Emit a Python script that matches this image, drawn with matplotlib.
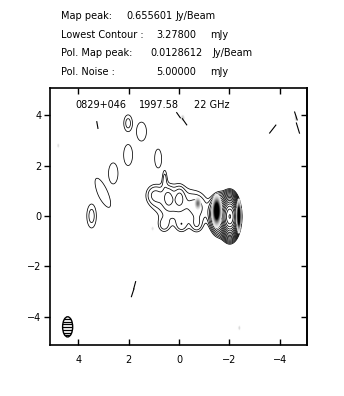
import numpy as np
import matplotlib
matplotlib.use("Agg")
import matplotlib.pyplot as plt
from matplotlib.patches import Ellipse

# ---------------- header text ----------------
hdr_labels = ["Map peak:", "Lowest Contour :", "Pol. Map peak:", "Pol. Noise :"]
hdr_values = ["0.655601", "3.27800", "0.0128612", "5.00000"]
hdr_units = ["Jy/Beam", "mJy", "Jy/Beam", "mJy"]
title_parts = ["0829+046", "1997.58", "22 GHz"]

# ---------------- axes ----------------
xticks = [4, 2, 0, -2, -4]
yticks = [-4, -2, 0, 2, 4]
xlim = (5.12, -5.08)
ylim = (-5.12, 5.08)

# ---------------- total intensity model components (mJy) ----------------
# comp_n: profile exponent (1 = Gaussian, 2 = flat-topped); comp_rot: rotation (deg)
lowest_contour = 3.278
n_levels = 16
comp_x   = [-2.02, -1.62, -0.78,  0.20, -0.03,  0.43,  1.00,  0.57,  0.60, -0.10, -0.70,
             3.47,  3.02,  2.61,  2.02,  0.83,  1.49,  2.02]
comp_y   = [-0.02,  0.05,  0.30,  0.52,  0.75,  0.75,  0.85,  1.55, -0.38, -0.38, -0.38,
             0.00,  0.92,  1.69,  2.42,  2.29,  3.35,  3.68]
comp_amp = [600.0, 60.0,   6.0,   7.5,   4.5,   4.5,   5.0,   4.2,   4.5,   4.5,   4.5,
              5.4,  4.4,   4.4,   4.4,   4.4,   4.4,   4.8]
comp_sx  = [0.15,  0.20,  0.30,  0.58,  0.13,  0.13,  0.25,  0.08,  0.18,  0.18,  0.18,
            0.19,  0.18,  0.18,  0.17,  0.13,  0.19,  0.155]
comp_sy  = [0.34,  0.38,  0.45,  0.55,  0.27,  0.27,  0.30,  0.30,  0.22,  0.22,  0.22,
            0.475, 0.60,  0.40,  0.40,  0.35,  0.36,  0.30]
comp_n   = [1,     1,     1,     1,     1,     1,     1,     1,     1,     1,     1,
            1,     2,     2,     2,     2,     2,     2]
comp_rot = [0,     0,     0,     0,     0,     0,     0,     0,     0,     0,     0,
            0,   -24,     0,     0,     0,     0,     0]

# ---------------- polarized intensity components (mJy) ----------------
pol_x   = [-1.50, -2.38, -0.75, -0.15, -4.65,  4.80,  1.05, -2.40]
pol_y   = [ 0.20,  0.00,  0.50,  3.90,  3.90,  2.80, -0.50, -4.45]
pol_amp = [12.9,  14.0,   5.5,   3.0,   3.0,   2.2,   2.2,   2.6]
pol_sx  = [0.10,  0.05,  0.08,  0.06,  0.05,  0.05,  0.05,  0.04]
pol_sy  = [0.32,  0.32,  0.15,  0.10,  0.10,  0.08,  0.08,  0.08]

# ---------------- polarization vectors ----------------
vec_x   = [0.02, -0.22, -3.72, -4.64, -4.72, 3.24, 1.76, 1.84]
vec_y   = [4.00,  3.74,  3.45,  3.97,  3.49, 3.61, -2.75, -3.05]
vec_len = [0.25,  0.30,  0.40,  0.33,  0.42, 0.27, 0.30,  0.32]
vec_ang = [-55,  -55,     52,  -72,   -73,   -80,  75,   72]   # screen angle, deg

# beam
beam_x, beam_y, beam_w, beam_h = 4.42, -4.40, 0.40, 0.80

# ---------------- build fields ----------------
g = np.linspace(-5.2, 5.2, 521)
X, Y = np.meshgrid(g, g)
I = np.zeros_like(X)
for x0, y0, a, sx, sy, n, rot in zip(comp_x, comp_y, comp_amp, comp_sx, comp_sy, comp_n, comp_rot):
    t = np.radians(rot)
    u = (X - x0) * np.cos(t) + (Y - y0) * np.sin(t)
    v = -(X - x0) * np.sin(t) + (Y - y0) * np.cos(t)
    q2 = u ** 2 / (2 * sx ** 2) + v ** 2 / (2 * sy ** 2)
    I += a * np.exp(-q2 ** n)
P = np.zeros_like(X)
for x0, y0, a, sx, sy in zip(pol_x, pol_y, pol_amp, pol_sx, pol_sy):
    P += a * np.exp(-((X - x0) ** 2 / (2 * sx ** 2) + (Y - y0) ** 2 / (2 * sy ** 2)))

levels = lowest_contour * np.sqrt(2) ** np.arange(n_levels)

# ---------------- figure ----------------
W, H = 344, 396
fig = plt.figure(figsize=(W / 100, H / 100), dpi=100)
ax = fig.add_axes([50 / W, 51 / H, 257 / W, 257 / H])

fs = 7
ypos = [15.7, 34.7, 53.3, 72.3]
xlab = [61, 61, 61, 61]
xval = [126, 156, 150, 156]
xunit = [175, 210, 212, 210]
for i in range(4):
    fig.text(xlab[i] / W, 1 - ypos[i] / H, hdr_labels[i], fontsize=fs, va="center", ha="left")
    fig.text(xval[i] / W, 1 - ypos[i] / H, hdr_values[i], fontsize=fs, va="center", ha="left")
    fig.text(xunit[i] / W, 1 - ypos[i] / H, hdr_units[i], fontsize=fs, va="center", ha="left")

ax.contour(X, Y, I, levels=levels, colors="black", linewidths=0.55, zorder=2)

Pm = np.ma.masked_less(P, 1.2)
cmap = plt.get_cmap("Greys").copy()
cmap.set_bad((1, 1, 1, 0))
ax.imshow(Pm, cmap=cmap, vmin=0.5, vmax=8, origin="lower",
          extent=[g[0], g[-1], g[0], g[-1]], interpolation="bilinear", zorder=2.5)

for x0, y0, L, ang in zip(vec_x, vec_y, vec_len, vec_ang):
    dx = -0.5 * L * np.cos(np.radians(ang))
    dy = 0.5 * L * np.sin(np.radians(ang))
    ax.plot([x0 - dx, x0 + dx], [y0 - dy, y0 + dy], color="black", lw=0.8, zorder=3)

beam = Ellipse((beam_x, beam_y), beam_w, beam_h, facecolor="none", edgecolor="black", lw=1.0, zorder=4)
ax.add_patch(beam)
hy = np.arange(beam_y - beam_h / 2 + 0.06, beam_y + beam_h / 2, 0.11)
hl = ax.hlines(hy, beam_x - beam_w, beam_x + beam_w, colors="black", lw=0.9, zorder=4)
hl.set_clip_path(beam)

ax.text(75 / W, 1 - 105.5 / H, title_parts[0], transform=fig.transFigure, fontsize=fs, va="center")
ax.text(139 / W, 1 - 105.5 / H, title_parts[1], transform=fig.transFigure, fontsize=fs, va="center")
ax.text(194 / W, 1 - 105.5 / H, title_parts[2], transform=fig.transFigure, fontsize=fs, va="center")

ax.set_xlim(*xlim)
ax.set_ylim(*ylim)
ax.set_aspect("auto")
ax.set_xticks(xticks)
ax.set_yticks(yticks)
ax.tick_params(axis="x", direction="in", top=True, length=4.5, width=1, labelsize=fs, pad=7)
ax.tick_params(axis="y", direction="out", right=False, length=4, width=1, labelsize=fs, pad=2)
sec = ax.secondary_yaxis("right")
sec.set_yticks(yticks)
sec.tick_params(direction="in", length=4.5, width=1, labelright=False)
sec.spines["right"].set_linewidth(1.2)
for s in ax.spines.values():
    s.set_linewidth(1.2)

fig.savefig("out.png", dpi=100)
